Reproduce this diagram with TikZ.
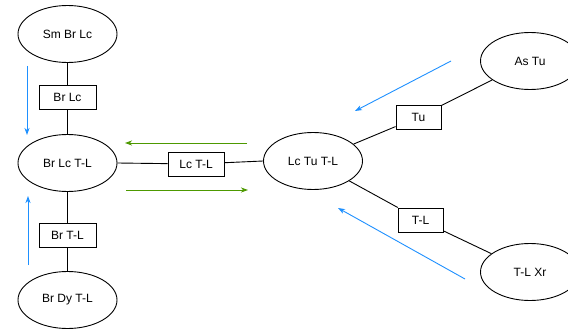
\documentclass[tikz,border=0pt]{standalone}
\usepackage{fontspec}
\setmainfont{Liberation Sans}
\usetikzlibrary{arrows.meta,shapes.geometric}
\definecolor{flowblue}{HTML}{1E90FF}
\definecolor{flowgreen}{HTML}{4D9900}
\begin{document}
\begin{tikzpicture}[x=1pt,y=-1pt,
  every node/.style={font=\fontsize{12}{14}\selectfont, text=black},
  state/.style={draw, ellipse, line width=0.9pt, minimum width=99pt, minimum height=57pt, inner sep=0pt},
  tag/.style={draw, rectangle, line width=0.9pt, fill=white, minimum height=24pt, inner sep=0pt},
  link/.style={line width=0.9pt},
  bluearrow/.style={draw=flowblue, line width=0.9pt, -{Stealth[length=7pt,width=5pt,inset=2pt]}},
  greenarrow/.style={draw=flowgreen, line width=0.9pt, -{Stealth[length=7pt,width=5pt,inset=2pt]}}
]
\useasboundingbox (0,0) rectangle (568,329);
\clip (0,0) rectangle (568,329);

% states
\node[state] (smbrlc) at (67.5,34) {Sm Br Lc};
\node[state] (brlctl) at (67.5,163) {Br Lc T-L};
\node[state] (brdytl) at (67.5,300) {Br Dy T-L};
\node[state] (lctutl) at (313,161) {Lc Tu T-L};
\node[state] (astu)   at (530,61) {As Tu};
\node[state] (tlxr)   at (530,272) {T-L Xr};

% transition labels
\node[tag, minimum width=57pt] (brlc) at (67.5,97) {Br Lc};
\node[tag, minimum width=57pt] (brtl) at (67.5,235) {Br T-L};
\node[tag, minimum width=56pt] (lctl) at (196,164) {Lc T-L};
\node[tag, minimum width=45pt] (tu)   at (418.5,117) {Tu};
\node[tag, minimum width=45pt] (tl)   at (420.5,220) {T-L};

% connections
\draw[link] (smbrlc) -- (brlc);
\draw[link] (brlc) -- (brlctl);
\draw[link] (brlctl) -- (brtl);
\draw[link] (brtl) -- (brdytl);
\draw[link] (brlctl.east) -- (lctl);
\draw[link] (lctl) -- (lctutl.west);
\draw[link] (lctutl) -- (tu);
\draw[link] (tu) -- (astu);
\draw[link] (lctutl) -- (tl);
\draw[link] (tl) -- (tlxr);

% direction hints
\coordinate (b1s) at (27,66);   \coordinate (b1e) at (27,135);
\coordinate (b2s) at (28,265);  \coordinate (b2e) at (28,196);
\coordinate (b3s) at (451,61);  \coordinate (b3e) at (355,111);
\coordinate (b4s) at (465,279); \coordinate (b4e) at (338,208);
\coordinate (g1s) at (247,143); \coordinate (g1e) at (125,143);
\coordinate (g2s) at (126,190); \coordinate (g2e) at (248,190);

\draw[bluearrow] (b1s) -- (b1e);
\draw[bluearrow] (b2s) -- (b2e);
\draw[bluearrow] (b3s) -- (b3e);
\draw[bluearrow] (b4s) -- (b4e);
\draw[greenarrow] (g1s) -- (g1e);
\draw[greenarrow] (g2s) -- (g2e);
\end{tikzpicture}
\end{document}
